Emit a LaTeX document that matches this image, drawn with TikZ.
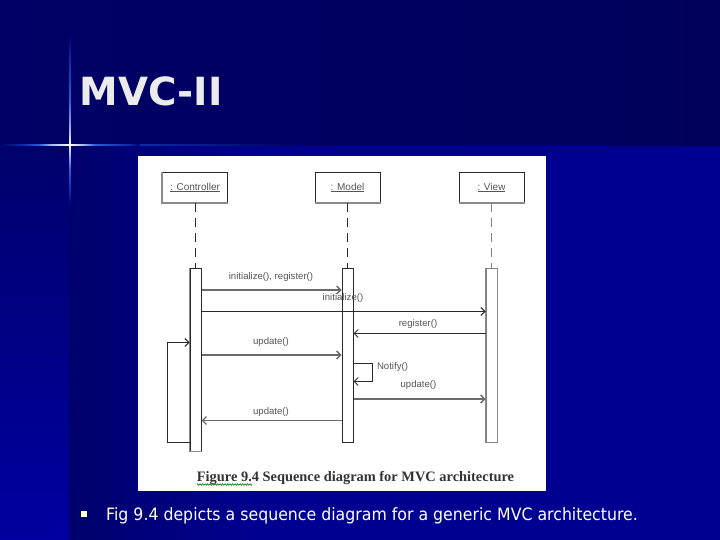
\documentclass[tikz,border=0pt]{standalone}
\usepackage{fontspec}
\setmainfont{Liberation Serif}
\setsansfont{Liberation Sans}
\newfontfamily\slidefont{DejaVu Sans}
\usetikzlibrary{arrows.meta,decorations.pathmorphing}
\definecolor{navytop}{HTML}{000066}
\definecolor{navyend}{HTML}{00005C}
\definecolor{bandblue}{HTML}{000090}
\definecolor{darkblue}{HTML}{00006C}
\definecolor{stripbot}{HTML}{0000A0}
\definecolor{flare}{HTML}{2A5CD8}
\definecolor{flaredim}{HTML}{0C2CA8}
\definecolor{flarelight}{HTML}{9AB4F0}
\definecolor{inkline}{HTML}{2A2A2A}
\definecolor{inksoft}{HTML}{6A6A6A}
\definecolor{inkgray}{HTML}{8A8A8A}
\definecolor{inktext}{HTML}{555555}
\pgfdeclarehorizontalshading{flareh}{100bp}{color(0bp)=(navytop); color(25bp)=(navytop); color(33bp)=(flaredim); color(39bp)=(flare); color(43bp)=(flarelight); color(50bp)=(white); color(55bp)=(flarelight); color(59bp)=(flare); color(71bp)=(flaredim); color(75bp)=(navytop); color(100bp)=(navytop)}
\pgfdeclareverticalshading{flarev}{100bp}{color(0bp)=(darkblue); color(25bp)=(darkblue); color(29.4bp)=(flaredim); color(35.3bp)=(flare); color(39.7bp)=(flarelight); color(42.6bp)=(white); color(47bp)=(flarelight); color(55.9bp)=(flare); color(67.6bp)=(flaredim); color(75bp)=(navytop); color(100bp)=(navytop)}
\tikzset{
  lifebox/.style={draw=inkline,line width=1pt,fill=white,minimum width=65pt,minimum height=30pt,inner sep=0pt,font=\sffamily\fontsize{10}{12}\selectfont,text=inktext},
  lifeline/.style={draw=inkline,line width=1pt,dash pattern=on 9pt off 6pt},
  actbar/.style={draw=inkline,line width=1pt,fill=white,minimum width=11pt,inner sep=0pt},
  msg/.style={draw=inkline,line width=1pt,-{Straight Barb[length=4pt,width=8pt]}},
  msgsoft/.style={msg,draw=inksoft,line width=1.4pt},
  msglabel/.style={font=\sffamily\fontsize{9.6}{11}\selectfont,text=inktext,inner sep=0pt},
  edgegray/.style={draw=inkgray,line width=1.6pt},
}
\begin{document}
\begin{tikzpicture}[x=1pt,y=-1pt]
\useasboundingbox (0,0) rectangle (720,540);
\shade[left color=navytop,right color=navyend] (0,0) rectangle (720,146);
\fill[bandblue] (260,146) rectangle (720,540);
\shade[left color=darkblue,right color=bandblue] (69,146) rectangle (260,540);
\shade[top color=darkblue,bottom color=stripbot] (0,146) rectangle (69,540);
\shade[shading=flareh] (0,144.2) rectangle (140,145.8);
\shade[left color=flaredim,right color=navyend] (140,144.6) rectangle (300,145.4);
\shade[shading=flarev] (69.2,35) rectangle (70.8,205);
% panel
\fill[white] (138,156) rectangle (546,491);
% lifeline heads
\node[lifebox] (ctl) at (195,187.5) {\underline{: Controller}};
\node[lifebox] (mdl) at (347.5,187.5) {\underline{: Model}};
\node[lifebox] (viw) at (491.5,187.5) {\underline{: View}};
\draw[edgegray] (ctl.north west) -- (ctl.south west) -- (ctl.south east);
\draw[edgegray] (mdl.south west) -- (mdl.south east);
\draw[edgegray] (viw.south west) -- (viw.south east);
% activation bars
\node[actbar,minimum height=183pt] (cbar) at (195.5,359.5) {};
\node[actbar,minimum height=174pt] (mbar) at (347.5,355) {};
\node[actbar,minimum height=174pt,draw=inkline!60] (vbar) at (491.5,355) {};
\draw[edgegray] (cbar.north west) -- (cbar.south west) -- (cbar.south east);
\draw[edgegray] (vbar.north west) -- (vbar.south west);
\draw[edgegray] (vbar.north east) -- (vbar.south east);
\draw[lifeline] (ctl.south) -- (ctl.south |- cbar.north);
\draw[lifeline] (mdl.south) -- (mdl.south |- mbar.north);
\draw[lifeline,draw=inkline!60,line width=1.8pt] (viw.south) -- (viw.south |- vbar.north);
% message end points
\coordinate (a1) at (cbar.east |- 0,290); \coordinate (b1) at (mbar.west |- 0,290);
\coordinate (a2) at (cbar.east |- 0,311.5); \coordinate (b2) at (vbar.west |- 0,311.5);
\coordinate (a3) at (vbar.west |- 0,333.5); \coordinate (b3) at (mbar.east |- 0,333.5);
\coordinate (a4) at (cbar.east |- 0,355); \coordinate (b4) at (mbar.west |- 0,355);
\coordinate (a5) at (mbar.east |- 0,363.5); \coordinate (b5) at (mbar.east |- 0,381.5);
\coordinate (l5a) at (372.5,363.5); \coordinate (l5b) at (372.5,381.5);
\coordinate (a6) at (mbar.east |- 0,399); \coordinate (b6) at (vbar.west |- 0,399);
\coordinate (a7) at (mbar.west |- 0,420.5); \coordinate (b7) at (cbar.east |- 0,420.5);
\coordinate (a8) at (cbar.west |- 0,442.5); \coordinate (b8) at (cbar.west |- 0,342.5);
\coordinate (l8a) at (167.5,442.5); \coordinate (l8b) at (167.5,342.5);
\draw[msgsoft] (a1) -- (b1);
\draw[msg] (a2) -- (b2);
\draw[msg] (a3) -- (b3);
\draw[msgsoft] (a4) -- (b4);
\draw[msg] (a5) -- (l5a) -- (l5b) -- (b5);
\draw[msgsoft] (a6) -- (b6);
\draw[msgsoft] (a7) -- (b7);
\draw[msg] (a8) -- (l8a) -- (l8b) -- (b8);
% labels
\node[msglabel] (t1) at (271,277) {initialize(), register()};
\node[msglabel] (t2) at (343,298.5) {initialize()};
\node[msglabel] (t3) at (418,324.5) {register()};
\node[msglabel] (t4) at (271,342) {update()};
\node[msglabel] (t5) at (392.5,367.5) {Notify()};
\node[msglabel] (t6) at (418.5,385.5) {update()};
\node[msglabel] (t7) at (271,412) {update()};
% caption
\node[font=\rmfamily\bfseries\fontsize{14.4}{16}\selectfont,text=black!80,inner sep=0pt] (cap) at (355.5,478.5) {Figure 9.4 Sequence diagram for MVC architecture};
\draw[green!45!black,line width=.6pt,decorate,decoration={zigzag,segment length=2.5pt,amplitude=.8pt}] (197,484.5) -- (252,484.5);
% slide text
\node[anchor=base west,font=\slidefont\bfseries\fontsize{38.8}{42}\selectfont,text=black!8,inner sep=0pt] (ttl) at (79.5,106) {MVC-II};
\fill[yellow!15] (81,511) rectangle (87,517);
\node[anchor=base west,font=\slidefont\fontsize{17}{20}\selectfont,text=white,inner sep=0pt,xscale=.927] (body) at (106,520) {Fig 9.4 depicts a sequence diagram for a generic MVC architecture.};
\end{tikzpicture}
\end{document}
